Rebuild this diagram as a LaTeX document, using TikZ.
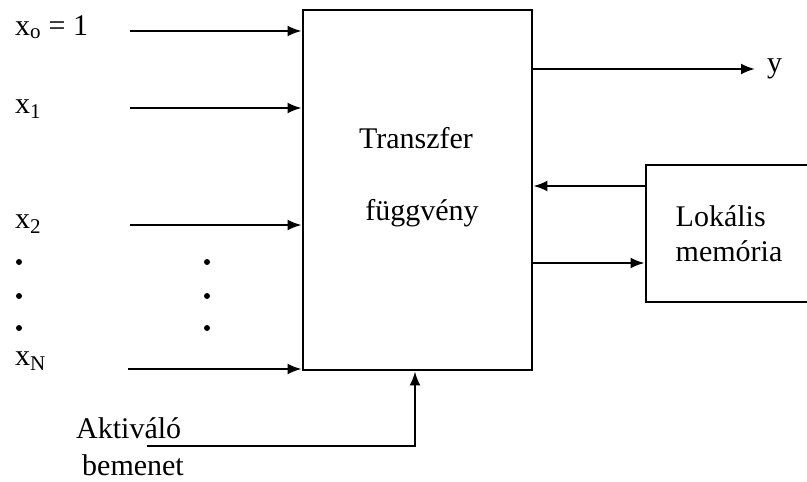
\documentclass[tikz,border=0pt]{standalone}
\usepackage{fontspec}
\setmainfont{Liberation Serif}
\usetikzlibrary{arrows.meta,calc}
\begin{document}
\begin{tikzpicture}[x=1pt,y=-1pt,
  lbl/.style={inner sep=0pt,font=\fontsize{30}{35}\selectfont},
  blk/.style={draw,line width=2.8pt,inner sep=0pt},
  arr/.style={line width=2.3pt,-{Latex[length=14pt,width=11pt]}},
  dotn/.style={circle,fill,inner sep=0pt,minimum size=6pt}]
\useasboundingbox[fill=white] (0,0) rectangle (807,482);
\clip (0,0) rectangle (807,482);
% blocks
\node[blk,minimum width=229pt,minimum height=360pt] (box) at (417.5,190) {};
\node[lbl,anchor=base] (t1) at (416,148) {Transzfer};
\node[lbl,anchor=base] (t2) at (422,220) {függvény};
\node[blk,minimum width=166pt,minimum height=137pt,align=left,
      font=\fontsize{30}{35}\selectfont] (mem) at (729,233.5) {Lokális\\memória};
% input labels
\node[lbl,anchor=base west] (lx0) at (15,35) {x\textsubscript{o} = 1};
\node[lbl,anchor=base west] (lx1) at (15,113) {x\textsubscript{1}};
\node[lbl,anchor=base west] (lx2) at (15,228) {x\textsubscript{2}};
\node[lbl,anchor=base west] (lxn) at (15,365) {x\textsubscript{N}};
\node[lbl,anchor=base west] (lak) at (76,438) {Aktiváló};
\node[lbl,anchor=base west] (lbe) at (82,475) {bemenet};
\node[lbl,anchor=base west] (ly) at (767,72) {y};
% dots
\foreach \i/\yy in {1/262,2/296,3/328}{
  \node[dotn] (dl\i) at (19,\yy) {};
  \node[dotn] (dr\i) at (207,\yy) {};
}
% arrow start points
\coordinate (s0) at (130,31);
\coordinate (s1) at (130,108);
\coordinate (s2) at (130,225);
\coordinate (sn) at (128,369);
\coordinate (sa) at (147,446);
\coordinate (ye) at (755,69);
% connectors
\draw[arr] (s0) -- (s0 -| box.west);
\draw[arr] (s1) -- (s1 -| box.west);
\draw[arr] (s2) -- (s2 -| box.west);
\draw[arr] (sn) -- (sn -| box.west);
\draw[arr] (sa) -| ([xshift=-2.5pt]box.south);
\draw[arr] (ye -| box.east) -- (ye);
\draw[arr] ([yshift=47.5pt]mem.west) -- ([yshift=47.5pt]mem.west -| box.east);
\draw[arr] ([yshift=-29.5pt]mem.west -| box.east) -- ([yshift=-29.5pt]mem.west);
\end{tikzpicture}
\end{document}
